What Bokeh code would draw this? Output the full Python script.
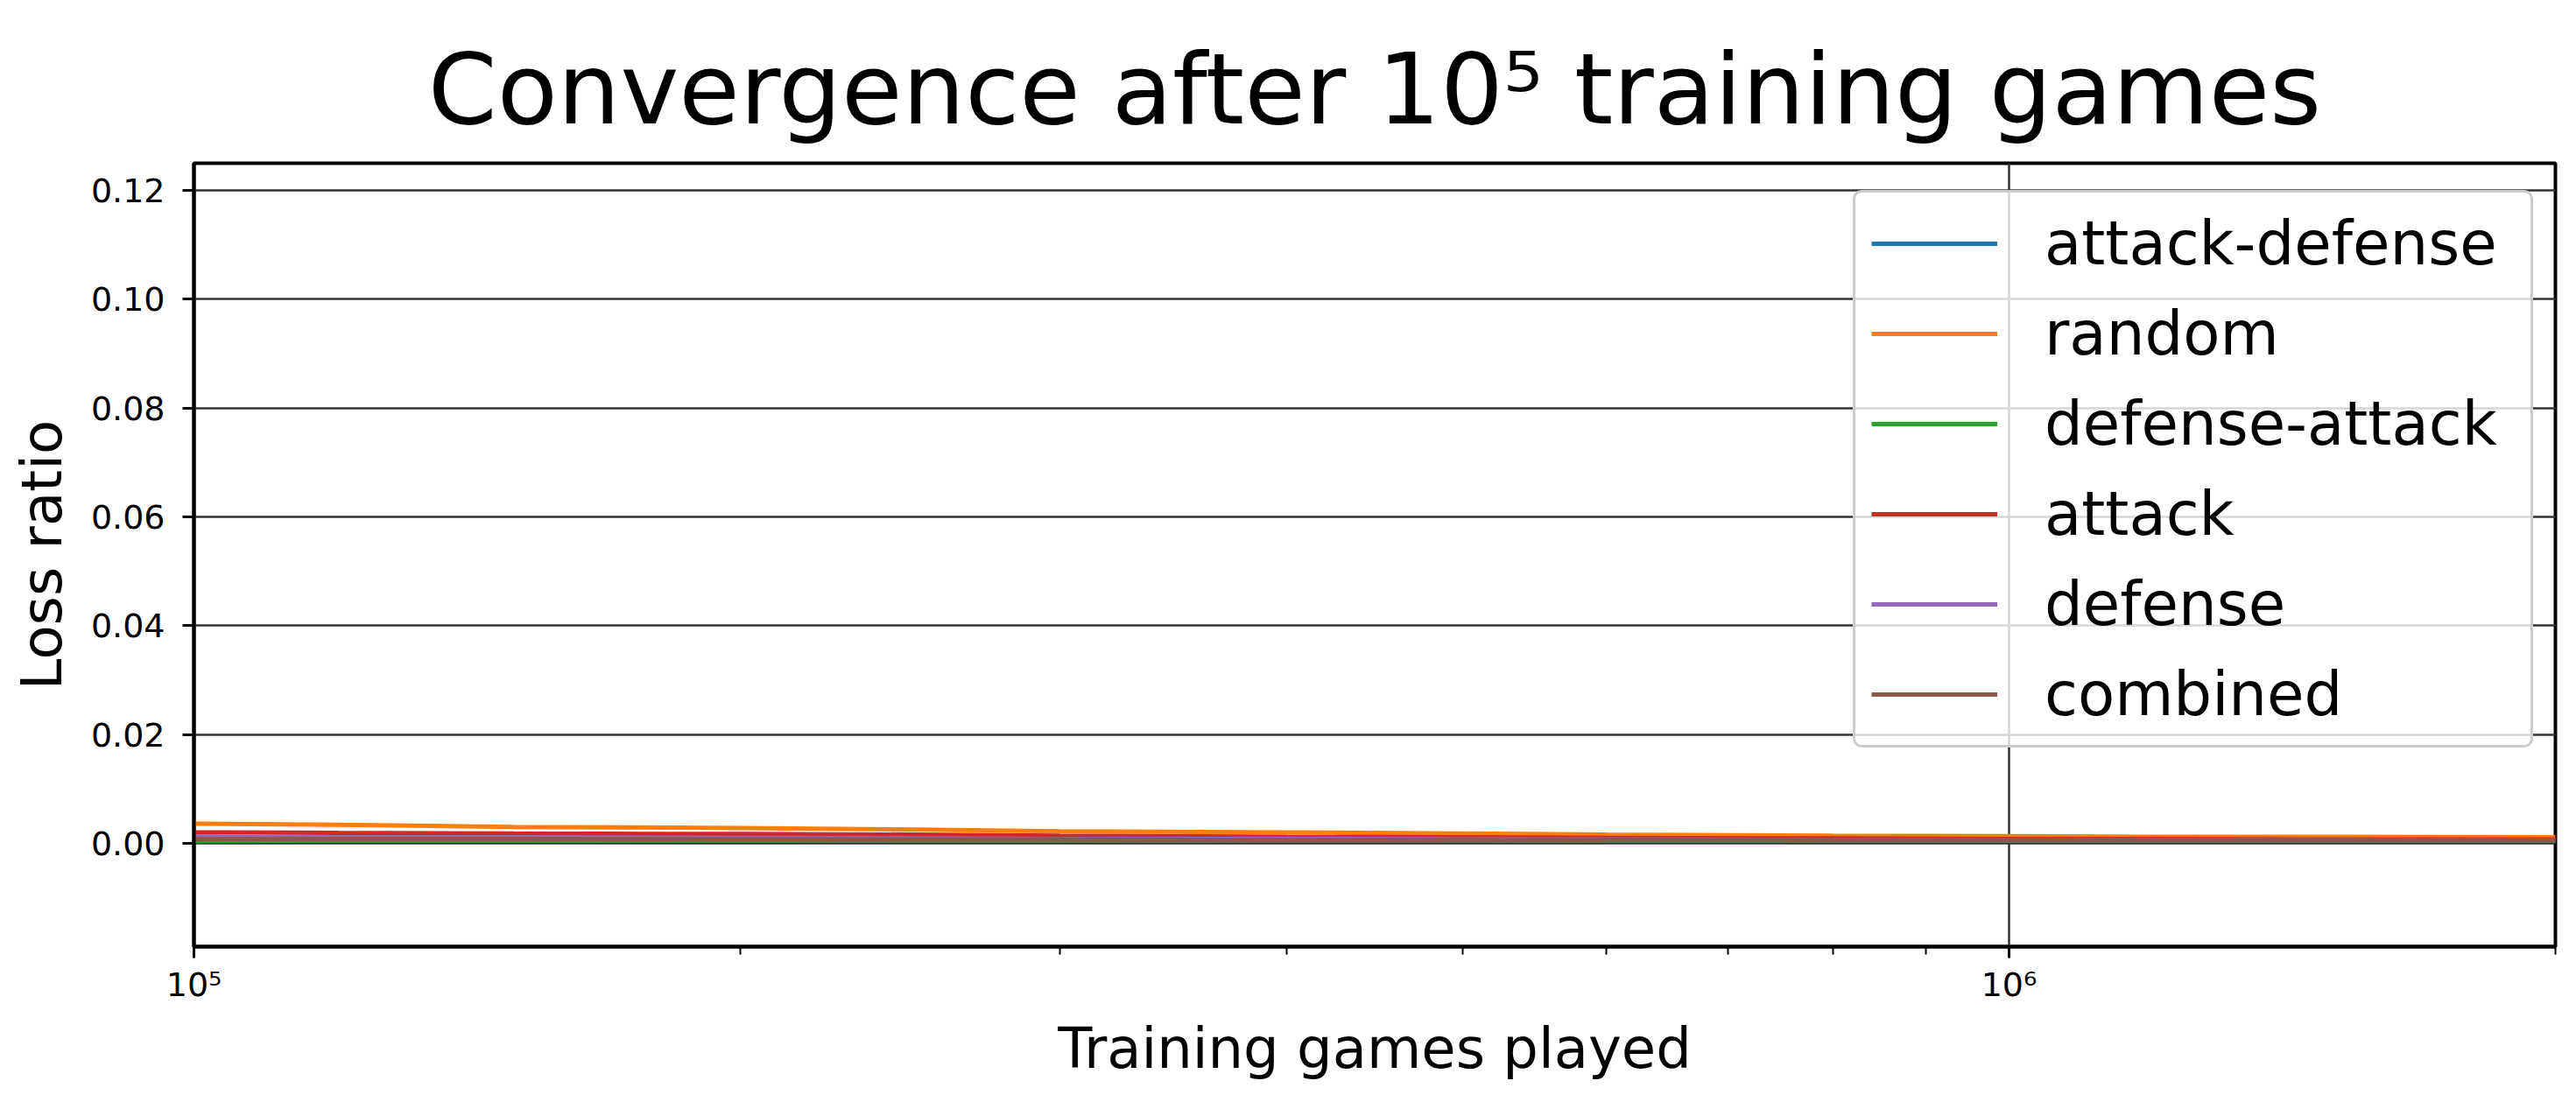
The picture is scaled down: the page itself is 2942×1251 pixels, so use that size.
from bokeh.plotting import figure
from bokeh.models import FixedTicker, Range1d, Legend, LegendItem
from bokeh.embed import file_html
from bokeh.resources import INLINE

# ---------------- data ----------------
games = [1e5, 1.2e5, 1.5e5, 2e5, 2.5e5, 3e5, 4e5, 5e5, 6e5, 8e5, 1e6, 1.2e6, 1.5e6, 2e6]
attack_defense = [0.0012, 0.0010, 0.0009, 0.0008, 0.0008, 0.0007, 0.0007, 0.0006, 0.0006, 0.0006, 0.0005, 0.0005, 0.0005, 0.0005]
random_ = [0.0036, 0.0034, 0.0030, 0.0028, 0.0025, 0.0022, 0.0020, 0.0018, 0.0016, 0.0014, 0.0013, 0.0012, 0.0012, 0.0011]
defense_attack = [0.0004, 0.0005, 0.0005, 0.0005, 0.0006, 0.0006, 0.0006, 0.0006, 0.0005, 0.0005, 0.0005, 0.0005, 0.0005, 0.0005]
attack = [0.0020, 0.0019, 0.0018, 0.0017, 0.0016, 0.0014, 0.0012, 0.0011, 0.0010, 0.0009, 0.0008, 0.0008, 0.0007, 0.0007]
defense = [0.0012, 0.0011, 0.0011, 0.0010, 0.0009, 0.0008, 0.0008, 0.0007, 0.0007, 0.0006, 0.0006, 0.0006, 0.0006, 0.0006]
combined = [0.0008, 0.0008, 0.0008, 0.0007, 0.0007, 0.0007, 0.0006, 0.0006, 0.0006, 0.0006, 0.0006, 0.0006, 0.0006, 0.0006]

series_names = ["attack-defense", "random", "defense-attack", "attack", "defense", "combined"]
series_values = [attack_defense, random_, defense_attack, attack, defense, combined]
series_colors = ["#1f77b4", "#ff7f0e", "#2ca02c", "#d62728", "#9467bd", "#8c564b"]

title_text = "Convergence after 10⁵ training games"
x_major_ticks = [1e5, 1e6]
x_major_labels = ["10⁵", "10⁶"]
x_minor_ticks = [2e5, 3e5, 4e5, 5e5, 6e5, 7e5, 8e5, 9e5, 2e6]
y_ticks = [0.0, 0.02, 0.04, 0.06, 0.08, 0.10, 0.12]
y_tick_labels = ["0.00", "0.02", "0.04", "0.06", "0.08", "0.10", "0.12"]

FONT = "DejaVu Sans"

p = figure(width=2934, height=1243, x_axis_type="log",
           x_range=Range1d(1e5, 2e6), y_range=Range1d(-0.019, 0.125),
           output_backend="svg", toolbar_location=None,
           min_border_left=221, min_border_right=16,
           min_border_top=186, min_border_bottom=162)

p.title.text = title_text
p.title.align = "center"
p.title.text_font = FONT
p.title.text_font_size = "113px"
p.title.text_font_style = "normal"
p.title.text_color = "black"
p.title.standoff = 38

p.outline_line_color = "black"
p.outline_line_width = 4
p.outline_line_alpha = 1

p.xaxis.ticker = FixedTicker(ticks=x_major_ticks, minor_ticks=x_minor_ticks)
p.xaxis.major_label_overrides = dict(zip(x_major_ticks, x_major_labels))
p.yaxis.ticker = FixedTicker(ticks=y_ticks)
p.yaxis.major_label_overrides = dict(zip(y_ticks, y_tick_labels))

for ax in (p.xaxis, p.yaxis):
    ax.axis_line_color = "black"
    ax.axis_line_width = 4
    ax.major_tick_out = 13
    ax.major_tick_in = 0
    ax.major_tick_line_width = 3
    ax.major_tick_line_color = "black"
    ax.major_label_text_font = FONT
    ax.major_label_text_font_size = "38px"
    ax.major_label_text_color = "black"
    ax.axis_label_text_font = FONT
    ax.axis_label_text_font_size = "64px"
    ax.axis_label_text_font_style = "normal"
    ax.axis_label_text_color = "black"

p.xaxis.minor_tick_out = 9
p.xaxis.minor_tick_in = 0
p.xaxis.minor_tick_line_width = 2
p.xaxis.minor_tick_line_color = "black"
p.yaxis.minor_tick_line_color = None
p.xaxis.major_label_standoff = 8
p.yaxis.major_label_standoff = 20
p.xaxis.axis_label = "Training games played"
p.yaxis.axis_label = "Loss ratio"
p.xaxis.axis_label_standoff = 11
p.yaxis.axis_label_standoff = 16

p.grid.grid_line_color = "#333333"
p.grid.grid_line_width = 2.5
p.grid.grid_line_alpha = 1

items = []
for name, vals, col in zip(series_names, series_values, series_colors):
    r = p.line(games, vals, line_color=col, line_width=5)
    items.append(LegendItem(label=name, renderers=[r]))

legend = Legend(items=items, location=(1895, 227), margin=0)
legend.border_line_color = "#cccccc"
legend.border_line_width = 3
legend.border_line_alpha = 1
legend.background_fill_color = "white"
legend.background_fill_alpha = 0.8
legend.padding = 18
legend.spacing = 23
legend.label_standoff = 54
legend.glyph_width = 144
legend.glyph_height = 74
legend.label_height = 74
legend.label_width = 537
legend.label_text_font = FONT
legend.label_text_font_size = "69px"
legend.label_text_color = "black"
legend.label_text_baseline = "middle"
if "border_radius" in Legend.properties():
    legend.border_radius = 10
p.add_layout(legend)

open("out.html", "w").write(file_html(p, INLINE))
